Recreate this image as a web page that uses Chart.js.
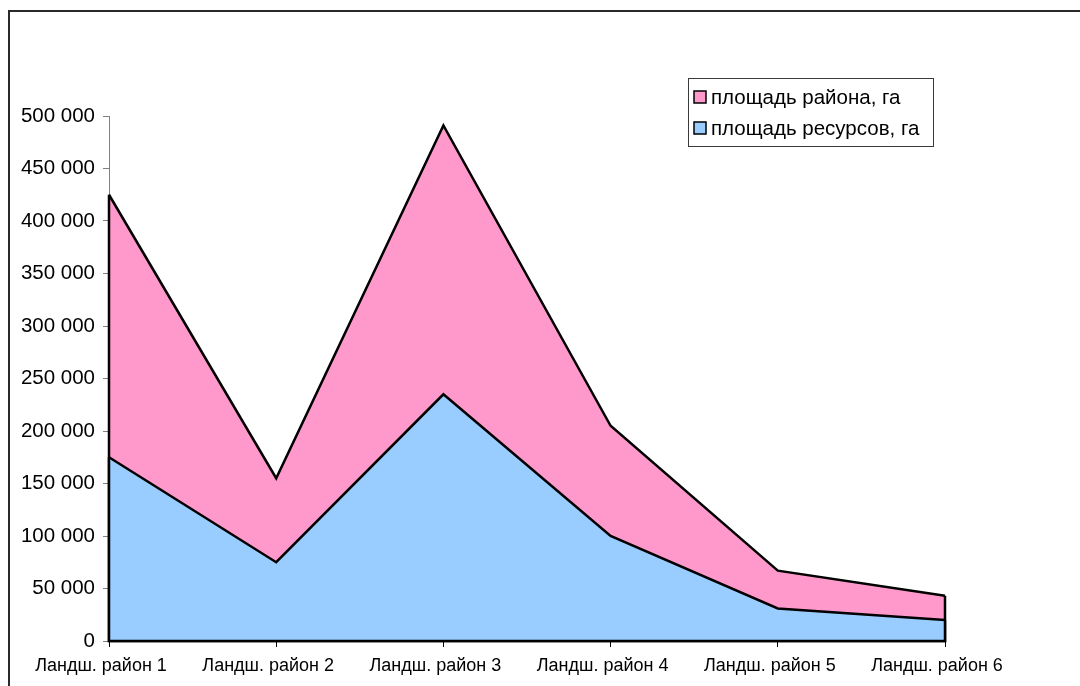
<!DOCTYPE html>
<html lang="ru">
<head>
<meta charset="utf-8">
<title>Площадь ландшафтных районов и ресурсов</title>
<script src="https://cdn.jsdelivr.net/npm/chart.js@4/dist/chart.umd.min.js"></script>
<style>
  html, body { margin: 0; padding: 0; background: #ffffff; }
  #wrap { width: 1080px; height: 686px; position: relative; }
</style>
</head>
<body>
<div id="wrap"><canvas id="chart" width="1080" height="686"></canvas></div>
<script>
// Categories: landscape districts
const districts = ['Ландш. район 1', 'Ландш. район 2', 'Ландш. район 3', 'Ландш. район 4', 'Ландш. район 5', 'Ландш. район 6'];
// District area, ha
const districtArea = [425000, 155000, 491000, 205000, 67000, 43000];
// Resource area, ha
const resourceArea = [175000, 75000, 235000, 100000, 31000, 20000];
// Series names
const seriesNames = ['площадь района, га', 'площадь ресурсов, га'];
// Y axis range
const yMin = 0, yMax = 500000, yStep = 50000;

const FONT = "'Liberation Sans', Arial, sans-serif";
const PINK = '#FF99CC';
const BLUE = '#99CCFF';

// Formats 150000 as "150 000"
function fmt(v) {
  return String(v).replace(/\B(?=(\d{3})+(?!\d))/g, ' ');
}

// Outer frame of the chart object
const framePlugin = {
  id: 'frame',
  beforeDraw(chart) {
    const ctx = chart.ctx;
    ctx.save();
    ctx.fillStyle = '#ffffff';
    ctx.fillRect(0, 0, chart.width, chart.height);
    ctx.strokeStyle = '#2a2a2a';
    ctx.lineWidth = 2;
    ctx.strokeRect(9, 11, chart.width + 40, chart.height + 40);
    ctx.restore();
  }
};

// Closes each area with black vertical edges and a base line
const areaEdgePlugin = {
  id: 'areaEdges',
  afterDatasetDraw(chart, args) {
    const meta = args.meta;
    const pts = meta.data;
    if (!pts.length) return;
    const y0 = chart.scales.y.getPixelForValue(0);
    const first = pts[0], last = pts[pts.length - 1];
    const ctx = chart.ctx;
    ctx.save();
    ctx.strokeStyle = '#000000';
    ctx.lineWidth = 2.5;
    ctx.lineJoin = 'miter';
    ctx.beginPath();
    ctx.moveTo(first.x, first.y);
    ctx.lineTo(first.x, y0);
    ctx.lineTo(last.x, y0);
    ctx.lineTo(last.x, last.y);
    ctx.stroke();
    ctx.restore();
  }
};

// Boxed legend in the upper right part of the plot
const boxLegendPlugin = {
  id: 'boxLegend',
  afterDraw(chart) {
    const ctx = chart.ctx;
    const x = 688, y = 78, w = 245, h = 68;
    ctx.save();
    ctx.fillStyle = '#ffffff';
    ctx.fillRect(x, y, w, h);
    ctx.strokeStyle = '#3a3a3a';
    ctx.lineWidth = 1;
    ctx.strokeRect(x + 0.5, y + 0.5, w, h);
    ctx.font = '20.5px ' + FONT;
    ctx.textBaseline = 'middle';
    chart.data.datasets.forEach((ds, i) => {
      const cy = y + 19 + i * 31;
      ctx.fillStyle = ds.backgroundColor;
      ctx.fillRect(x + 6, cy - 6, 12, 12);
      ctx.strokeStyle = '#000000';
      ctx.lineWidth = 1.5;
      ctx.strokeRect(x + 6, cy - 6, 12, 12);
      ctx.fillStyle = '#000000';
      ctx.fillText(ds.label, x + 23, cy + 1);
    });
    ctx.restore();
  }
};

new Chart(document.getElementById('chart'), {
  type: 'line',
  data: {
    labels: districts,
    datasets: [
      {
        label: seriesNames[0],
        data: districtArea,
        backgroundColor: PINK,
        borderColor: '#000000',
        borderWidth: 2.5,
        fill: 'origin',
        pointRadius: 0,
        tension: 0,
        order: 1
      },
      {
        label: seriesNames[1],
        data: resourceArea,
        backgroundColor: BLUE,
        borderColor: '#000000',
        borderWidth: 2.5,
        fill: 'origin',
        pointRadius: 0,
        tension: 0,
        order: 0
      }
    ]
  },
  options: {
    responsive: false,
    animation: false,
    devicePixelRatio: 1,
    layout: { padding: { left: 8, right: 135, top: 116, bottom: 0 } },
    plugins: {
      legend: { display: false },
      tooltip: { enabled: false },
      title: { display: false }
    },
    scales: {
      x: {
        offset: false,
        grid: {
          display: true,
          drawOnChartArea: false,
          drawTicks: true,
          tickLength: 6,
          color: '#000000'
        },
        border: { display: true, color: '#808080', width: 1 },
        ticks: {
          color: '#000000',
          font: { family: FONT, size: 18 },
          padding: 8,
          labelOffset: -8,
          maxRotation: 0,
          autoSkip: false
        },
        afterFit(scale) { scale.height = 45; }
      },
      y: {
        min: yMin,
        max: yMax,
        grid: {
          display: true,
          drawOnChartArea: false,
          drawTicks: true,
          tickLength: 6,
          color: '#808080'
        },
        border: { display: true, color: '#808080', width: 1 },
        ticks: {
          stepSize: yStep,
          color: '#000000',
          font: { family: FONT, size: 20.5 },
          padding: 8,
          callback: (v) => fmt(v)
        },
        afterFit(scale) { scale.width = 101; }
      }
    }
  },
  plugins: [framePlugin, areaEdgePlugin, boxLegendPlugin]
});
</script>
</body>
</html>
